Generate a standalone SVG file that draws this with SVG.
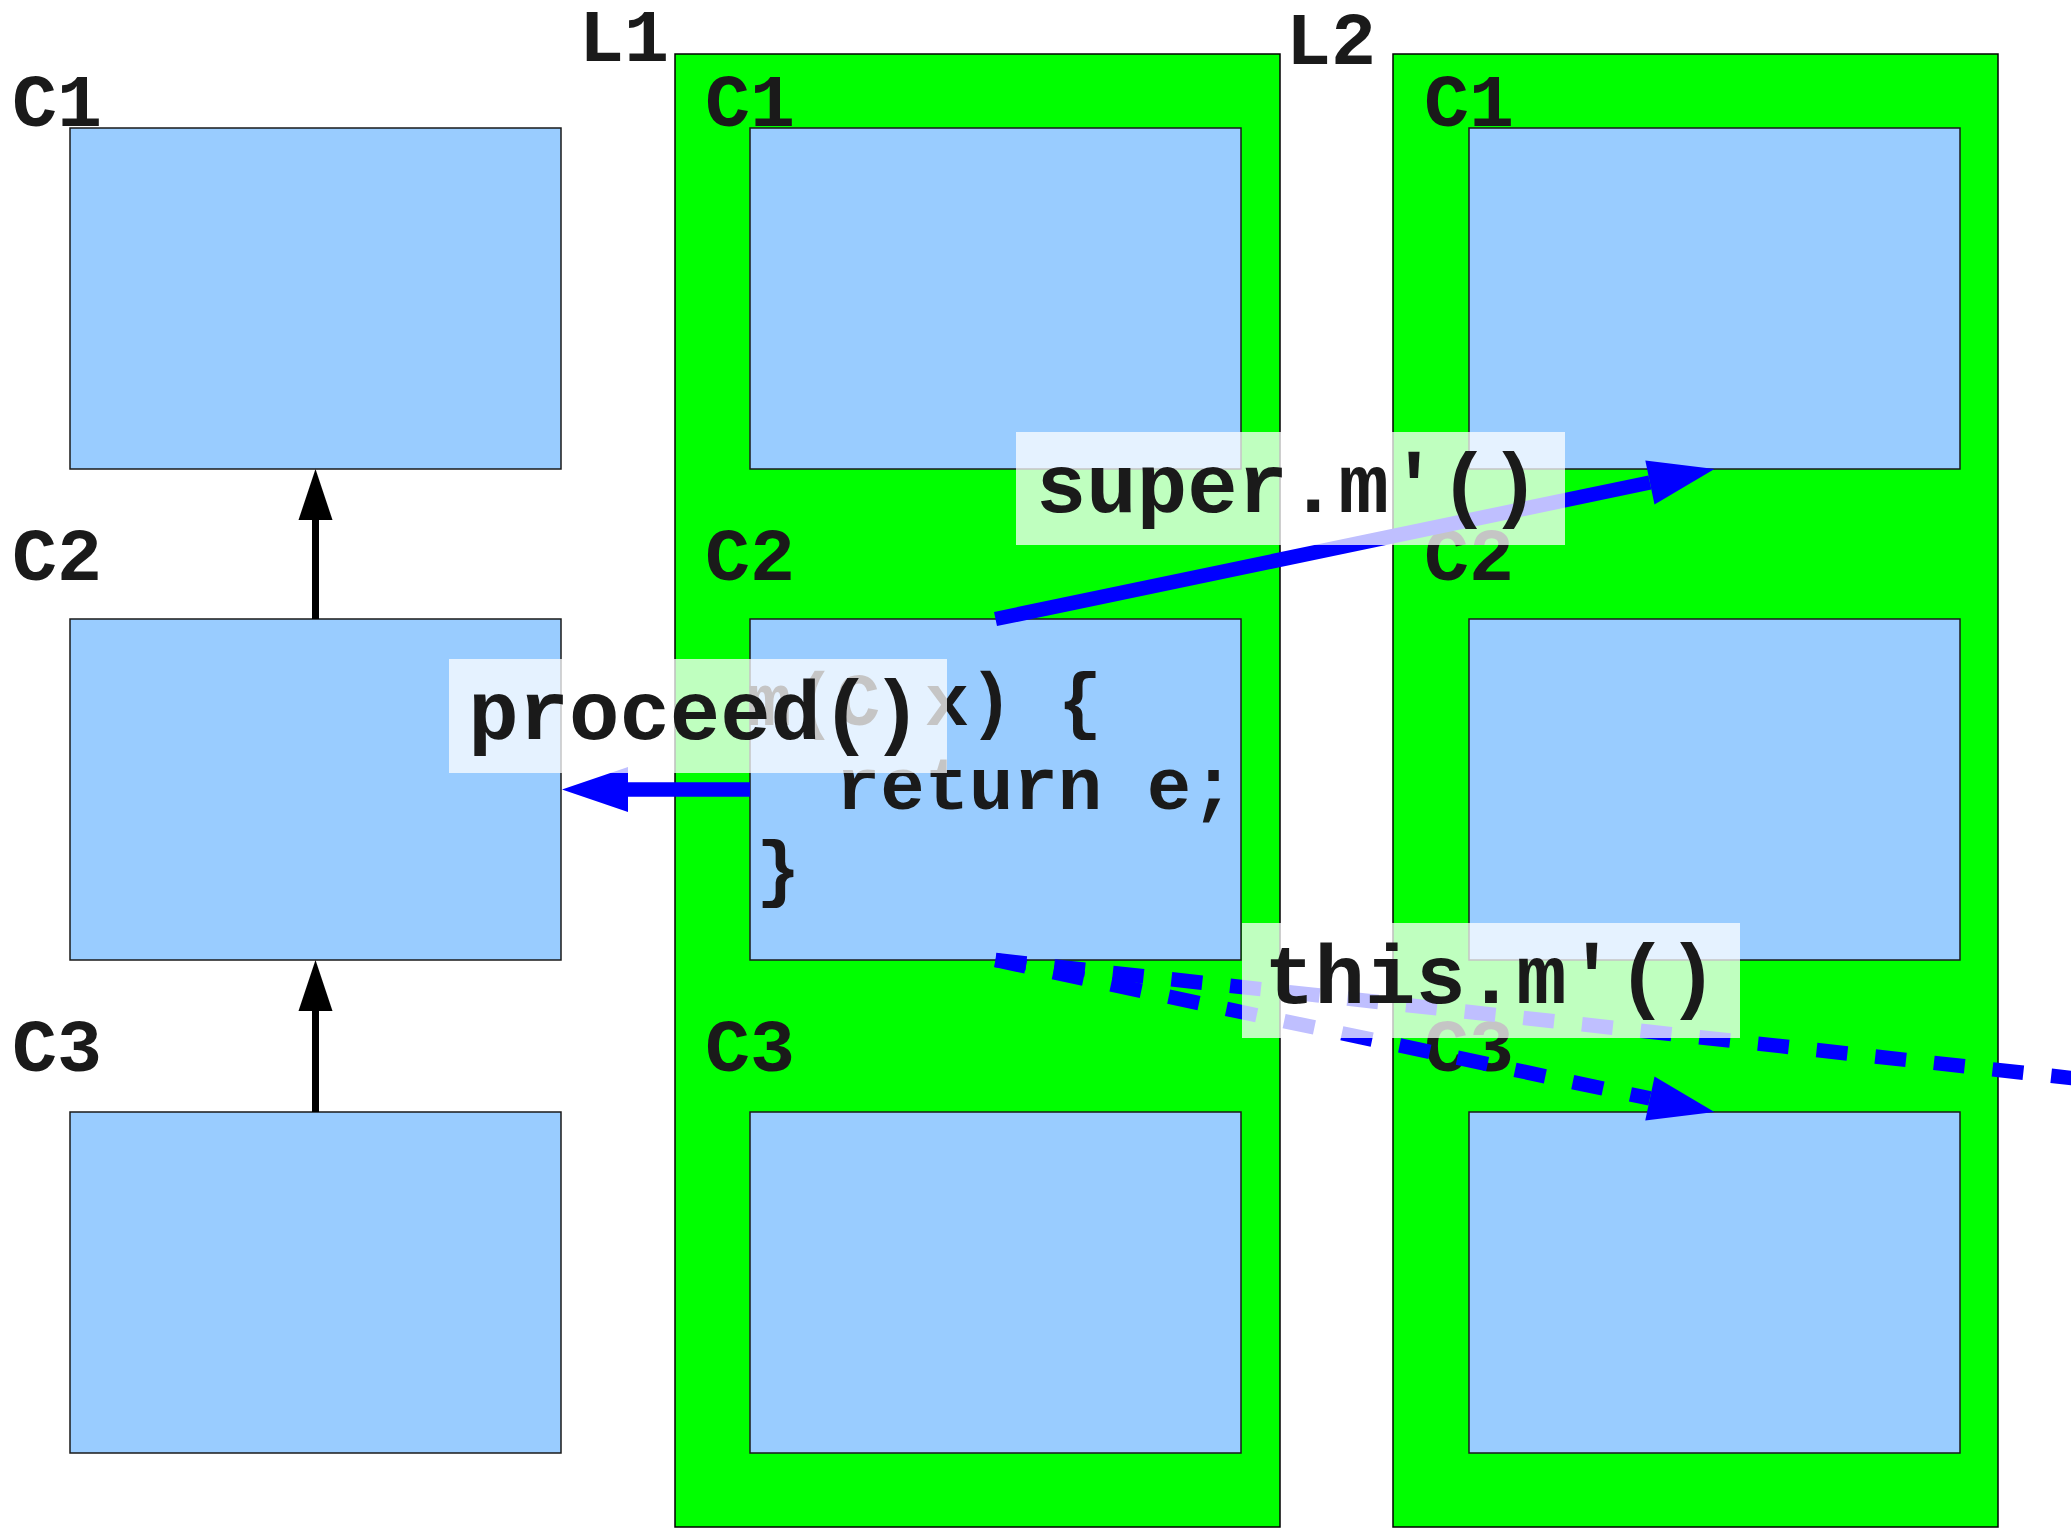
<svg xmlns="http://www.w3.org/2000/svg" width="2071" height="1529" viewBox="0 0 2071 1529">
  <style>
    .layer { fill: #00ff00; stroke: #000000; stroke-width: 1.5; }
    .cls { fill: #99ccff; stroke: #1a1a1a; stroke-width: 1.5; }
    .lbl { font-family: "Liberation Mono", "Courier New", monospace; font-weight: bold; font-size: 75px; fill: #1a1a1a; }
    .code { font-family: "Liberation Mono", "Courier New", monospace; font-weight: bold; font-size: 74px; fill: #1a1a1a; }
    .elbl { font-family: "Liberation Mono", "Courier New", monospace; font-weight: bold; font-size: 84px; fill: #1a1a1a; text-anchor: middle; }
    .ebg { fill: #ffffff; fill-opacity: 0.75; }
    .inherit { stroke: #000000; stroke-width: 7; fill: none; }
    .call { stroke: #0000ff; stroke-width: 14.5; fill: none; }
    .dashed { stroke-dasharray: 31 28; }
  </style>
  <defs>
    <marker id="headBlack" markerUnits="userSpaceOnUse" markerWidth="52" markerHeight="36" refX="0" refY="17" orient="auto" overflow="visible">
      <path d="M0,0 L51,17 L0,34 Z" fill="#000000"/>
    </marker>
    <marker id="headBlue" markerUnits="userSpaceOnUse" markerWidth="68" markerHeight="46" refX="0" refY="22.5" orient="auto" overflow="visible">
      <path d="M0,0 L66,22.5 L0,45 Z" fill="#0000ff"/>
    </marker>
  </defs>

  <!-- layer containers -->
  <g id="L1">
    <rect class="layer" x="675" y="54" width="605" height="1473"/>
    <text class="lbl" x="579" y="61">L1</text>
  </g>
  <g id="L2">
    <rect class="layer" x="1393" y="54" width="605" height="1473"/>
    <text class="lbl" x="1286" y="64">L2</text>
  </g>

  <!-- base class hierarchy -->
  <g id="base-C1">
    <rect class="cls" x="70" y="128" width="491" height="341"/>
    <text class="lbl" x="12" y="126">C1</text>
  </g>
  <g id="base-C2">
    <rect class="cls" x="70" y="619" width="491" height="341"/>
    <text class="lbl" x="12" y="580">C2</text>
  </g>
  <g id="base-C3">
    <rect class="cls" x="70" y="1112" width="491" height="341"/>
    <text class="lbl" x="12" y="1071">C3</text>
  </g>

  <!-- classes refined by layer L1 -->
  <g id="L1-C1">
    <rect class="cls" x="750" y="128" width="491" height="341"/>
    <text class="lbl" x="705" y="126">C1</text>
  </g>
  <g id="L1-C2">
    <rect class="cls" x="750" y="619" width="491" height="341"/>
    <text class="lbl" x="705" y="580">C2</text>
    <text class="code" xml:space="preserve"><tspan x="747" y="725">m(C x) {</tspan><tspan x="747" y="809">  return e;</tspan><tspan x="756" y="893">}</tspan></text>
  </g>
  <g id="L1-C3">
    <rect class="cls" x="750" y="1112" width="491" height="341"/>
    <text class="lbl" x="705" y="1071">C3</text>
  </g>

  <!-- classes refined by layer L2 -->
  <g id="L2-C1">
    <rect class="cls" x="1469" y="128" width="491" height="341"/>
    <text class="lbl" x="1424" y="126">C1</text>
  </g>
  <g id="L2-C2">
    <rect class="cls" x="1469" y="619" width="491" height="341"/>
    <text class="lbl" x="1424" y="580">C2</text>
  </g>
  <g id="L2-C3">
    <rect class="cls" x="1469" y="1112" width="491" height="341"/>
    <text class="lbl" x="1424" y="1071">C3</text>
  </g>

  <!-- connectors -->
  <g id="connectors">
    <line class="inherit" x1="315.5" y1="619" x2="315.5" y2="520" marker-end="url(#headBlack)"/>
    <line class="inherit" x1="315.5" y1="1112" x2="315.5" y2="1011" marker-end="url(#headBlack)"/>

    <line class="call" x1="995.5" y1="619" x2="1649.9" y2="482.5" marker-end="url(#headBlue)"/>
    <line class="call" x1="750" y1="789.5" x2="628" y2="789.5" marker-end="url(#headBlue)"/>
    <line class="call dashed" x1="995.5" y1="960" x2="1649.9" y2="1098.4" marker-end="url(#headBlue)"/>
    <line class="call dashed" x1="995.5" y1="960" x2="2334" y2="1106.8" marker-end="url(#headBlue)"/>

    <g id="label-super">
      <rect class="ebg" x="1016" y="432" width="549" height="113"/>
      <text class="elbl" x="1288" y="512">super.m'()</text>
    </g>
    <g id="label-proceed">
      <rect class="ebg" x="449" y="659" width="498" height="114"/>
      <text class="elbl" x="695" y="739">proceed()</text>
    </g>
    <g id="label-this">
      <rect class="ebg" x="1242" y="923" width="498" height="115"/>
      <text class="elbl" x="1491" y="1003">this.m'()</text>
    </g>
  </g>
</svg>
